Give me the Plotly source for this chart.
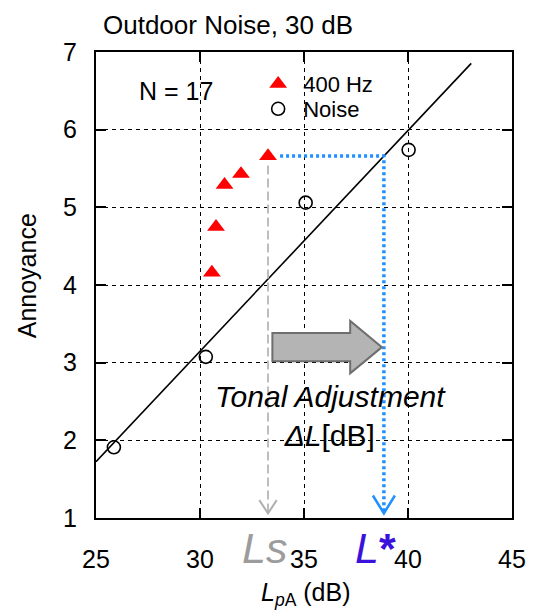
import numpy as np
import plotly.graph_objects as go

# Mean annoyance ratings, outdoor noise at 30 dB, N = 17
tone_level = [30.57, 30.77, 31.18, 31.97, 33.27]      # 400 Hz tone, LpA (dB)
tone_annoy = [4.16, 4.75, 5.29, 5.43, 5.66]
noise_level = [25.86, 30.28, 35.08, 40.03]            # broadband noise, LpA (dB)
noise_annoy = [1.91, 3.075, 5.06, 5.74]

x_ticks = [25, 30, 35, 40, 45]
y_ticks = [1, 2, 3, 4, 5, 6, 7]

FONT = "Liberation Sans, Arial, sans-serif"

# Linear regression of annoyance on level for the noise reference
slope, intercept = np.polyfit(noise_level, noise_annoy, 1)
fit_x = np.array([25.0, 43.04])
fit_y = slope * fit_x + intercept

# Level of the loudest tone and the equally annoying noise level
Ls = tone_level[-1]
A_s = tone_annoy[-1]
L_star = (A_s - intercept) / slope

fig = go.Figure()

fig.add_trace(go.Scatter(
    x=fit_x, y=fit_y, mode="lines",
    line=dict(color="black", width=1.6),
    showlegend=False, hoverinfo="skip",
))
fig.add_trace(go.Scatter(
    x=tone_level, y=tone_annoy, mode="markers", name="400 Hz",
    marker=dict(symbol="triangle-up", size=15.5, color="#ff0000"),
    legend="legend",
))
fig.add_trace(go.Scatter(
    x=noise_level, y=noise_annoy, mode="markers", name="Noise",
    marker=dict(symbol="circle-open", size=13, color="black",
                line=dict(width=1.6, color="black")),
    legend="legend2",
))

shapes = []
y_floor = 1.06
# grey dashed drop line at Ls
shapes.append(dict(type="line", xref="x", yref="y",
                   x0=Ls, x1=Ls, y0=A_s - 0.12, y1=y_floor + 0.02,
                   line=dict(color="#bdbdbd", width=2, dash="9px,4px")))
shapes.append(dict(type="path", xref="x", yref="y",
                   path=f"M {Ls-0.42},{y_floor+0.17} L {Ls},{y_floor} L {Ls+0.42},{y_floor+0.17}",
                   line=dict(color="#b0b0b0", width=2)))
# blue dotted path to L*
shapes.append(dict(type="path", xref="x", yref="y",
                   path=f"M {Ls+0.58},{A_s} L {L_star},{A_s} L {L_star},{y_floor+0.03}",
                   line=dict(color="#1e90ff", width=3.5, dash="3px,3px")))
shapes.append(dict(type="path", xref="x", yref="y",
                   path=f"M {L_star-0.53},{y_floor+0.23} L {L_star},{y_floor} L {L_star+0.53},{y_floor+0.23}",
                   line=dict(color="#1e90ff", width=2.5)))
# grey block arrow: tonal adjustment
ac, bh, hh = 3.2, 0.1825, 0.3375
xb0, xb1, xt = 33.48, 37.22, 38.745
shapes.append(dict(type="path", xref="x", yref="y",
                   path=(f"M {xb0},{ac+bh} L {xb1},{ac+bh} L {xb1},{ac+hh} L {xt},{ac} "
                         f"L {xb1},{ac-hh} L {xb1},{ac-bh} L {xb0},{ac-bh} Z"),
                   fillcolor="#b4b4b4", line=dict(color="#6e6e6e", width=2)))

annotations = [
    dict(text="Outdoor Noise, 30 dB", xref="paper", yref="paper",
         x=0.0125, y=1.058, xanchor="left", yanchor="middle", showarrow=False,
         font=dict(size=26, color="black", family=FONT)),
    dict(text="N = 17", xref="x", yref="y", x=28.83, y=6.5,
         xanchor="center", yanchor="middle", showarrow=False,
         font=dict(size=25, color="black", family=FONT)),
    dict(text="<i>Tonal Adjustment</i><br><i>ΔL</i>[dB]", xref="x", yref="y",
         x=36.25, y=2.315, xanchor="center", yanchor="middle", showarrow=False,
         font=dict(size=30, color="black", family=FONT)),
    dict(text="<i>Ls</i>", xref="x", yref="paper", x=Ls - 0.15, y=-0.064,
         xanchor="center", yanchor="middle", showarrow=False,
         font=dict(size=43, color="#9c9c9c", family=FONT)),
    dict(text="<i>L</i><b>*</b>", xref="x", yref="paper", x=L_star - 0.4, y=-0.064,
         xanchor="center", yanchor="middle", showarrow=False,
         font=dict(size=43, color="#3a12dc", family=FONT)),
    dict(text="Annoyance", xref="paper", yref="paper", x=-0.1655, y=0.519,
         xanchor="center", yanchor="middle", textangle=-90, showarrow=False,
         font=dict(size=25, color="black", family=FONT)),
    dict(text="<i>L</i><sub><i>p</i>A</sub> (dB)", xref="paper", yref="paper",
         x=0.505, y=-0.164, xanchor="center", yanchor="middle", showarrow=False,
         font=dict(size=25, color="black", family=FONT)),
]

axis_common = dict(
    showline=True, linecolor="black", linewidth=2, mirror="ticks",
    ticks="inside", ticklen=10, tickwidth=1.5, tickcolor="black",
    showgrid=True, gridcolor="black", gridwidth=1, griddash="4px,4px",
    zeroline=False, tickfont=dict(size=25, color="black", family=FONT),
)

fig.update_layout(
    width=538, height=614,
    margin=dict(l=96, r=18, t=52, b=96),
    paper_bgcolor="white", plot_bgcolor="white",
    xaxis=dict(range=[25, 45], tickvals=x_ticks, ticklabelstandoff=18, **axis_common),
    yaxis=dict(range=[1, 7], tickvals=y_ticks, ticklabelstandoff=12, **axis_common),
    shapes=shapes,
    annotations=annotations,
    legend=dict(x=0.3778, y=0.9313, xanchor="left", yanchor="middle",
                bgcolor="rgba(0,0,0,0)", borderwidth=0, itemwidth=40,
                font=dict(size=22, color="black", family=FONT)),
    legend2=dict(x=0.3778, y=0.8777, xanchor="left", yanchor="middle",
                 bgcolor="rgba(0,0,0,0)", borderwidth=0, itemwidth=40,
                 font=dict(size=22, color="black", family=FONT)),
)

fig.write_html("out.html")
